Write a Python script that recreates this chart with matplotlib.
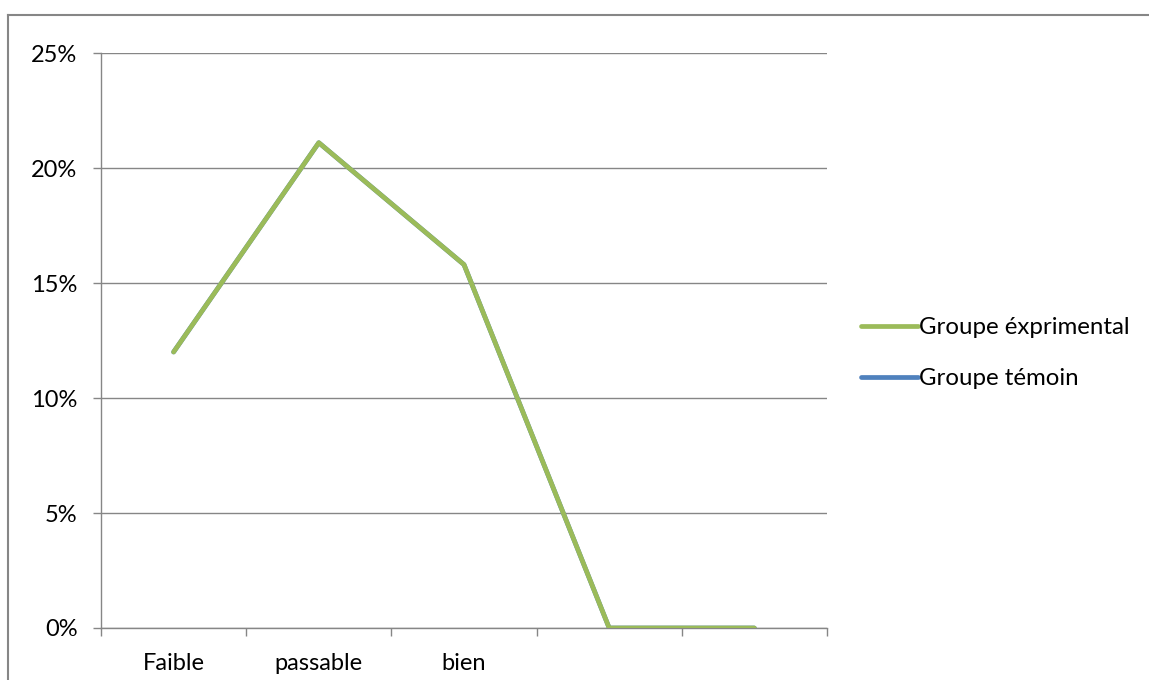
import matplotlib
matplotlib.use("Agg")
import matplotlib.pyplot as plt
from matplotlib.lines import Line2D
from matplotlib.ticker import FuncFormatter

categories = ["Faible", "passable", "bien", "", ""]
groupe_experimental = [0.12, 0.211, 0.158, 0.0, 0.0]
groupe_temoin = [0.12, 0.211, 0.158, 0.0, 0.0]
y_ticks = [0.0, 0.05, 0.10, 0.15, 0.20, 0.25]

plt.rcParams['font.family'] = ['Lato', 'DejaVu Sans']

W, H = 1149, 680
fig = plt.figure(figsize=(W / 100, H / 100), dpi=100)
ax = fig.add_axes([101 / W, 1 - 628 / H, (827 - 101) / W, (628 - 53) / H])

grey = "#868686"
lw = 3.4
xs = [i + 0.5 for i in range(len(categories))]
ax.plot(xs, groupe_temoin, color="#4F81BD", lw=lw, solid_capstyle="round", solid_joinstyle="round", zorder=3)
ax.plot(xs, groupe_experimental, color="#9BBB59", lw=lw, solid_capstyle="round", solid_joinstyle="round", zorder=4)

ax.set_xlim(0, len(categories))
ax.set_ylim(0, 0.25)
ax.set_yticks(y_ticks)
ax.yaxis.set_major_formatter(FuncFormatter(lambda v, p: f"{round(v * 100)}%"))
ax.grid(axis="y", color=grey, lw=1.0)
ax.set_axisbelow(True)

ax.set_xticks(range(len(categories) + 1))
ax.set_xticklabels([])
ax.set_xticks(xs, minor=True)
ax.set_xticklabels(categories, minor=True)
ax.tick_params(axis="x", which="major", length=6, width=1, color=grey, direction="out")
ax.tick_params(axis="x", which="minor", length=0, pad=18, labelsize=17)
ax.tick_params(axis="y", length=6, width=1, color=grey, pad=11, labelsize=17)

for s in ["top", "right"]:
    ax.spines[s].set_visible(False)
for s in ["left", "bottom"]:
    ax.spines[s].set_color(grey)
    ax.spines[s].set_linewidth(1.0)

# outer chart border
fig.add_artist(Line2D([8 / W, 1], [1 - 15 / H, 1 - 15 / H], color=grey, lw=1.5, transform=fig.transFigure))
fig.add_artist(Line2D([8 / W, 8 / W], [0, 1 - 15 / H], color=grey, lw=1.5, transform=fig.transFigure))

handles = [Line2D([], [], color="#9BBB59", lw=lw, solid_capstyle="round"),
           Line2D([], [], color="#4F81BD", lw=lw, solid_capstyle="round")]
fig.legend(handles, ["Groupe éxprimental", "Groupe témoin"], loc="center left",
           bbox_to_anchor=(851 / W, 1 - 353 / H), frameon=False, fontsize=17.3,
           handlelength=2.4, handletextpad=0.05, labelspacing=1.25, borderaxespad=0)

fig.savefig("out.png", dpi=100)
